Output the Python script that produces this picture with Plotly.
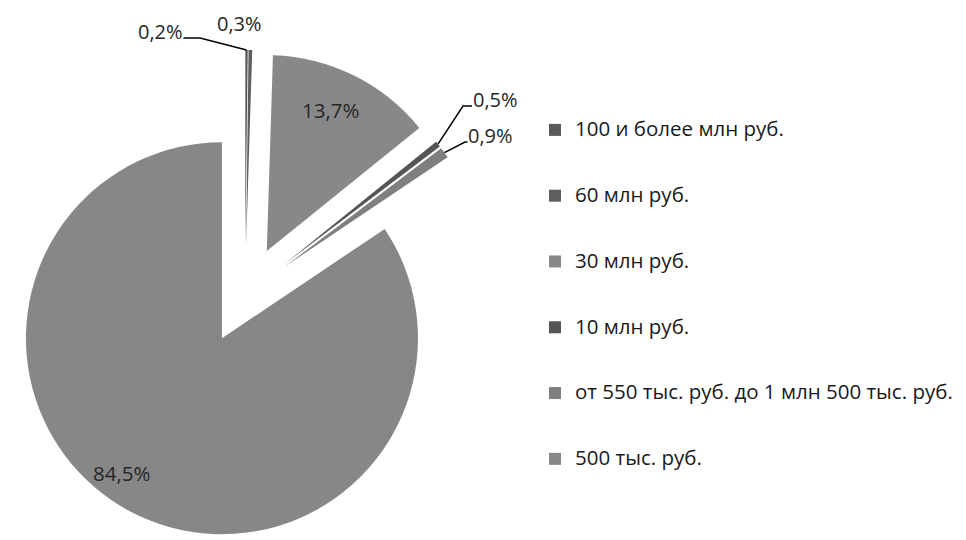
import math
import plotly.graph_objects as go

# ---- data ----
categories = [
    "100 и более млн руб.",
    "60 млн руб.",
    "30 млн руб.",
    "10 млн руб.",
    "от 550 тыс. руб. до 1 млн 500 тыс. руб.",
    "500 тыс. руб.",
]
shares = [0.2, 0.3, 13.7, 0.5, 0.9, 84.5]
colors = ["#5a5a5a", "#5e5e5e", "#888888", "#555555", "#7f7f7f", "#878787"]

W, H = 966, 540
FONT = "Open Sans"
PULL = 0.25
BOX = 490  # pie box size in px (left/bottom aligned)

# legend entries padded with blank lines to reproduce the wide spacing
legend_labels = [
    ' <br><span style="font-size:20.5px">' + c + "</span><br> " for c in categories
]

fig = go.Figure(
    go.Pie(
        labels=legend_labels,
        values=shares,
        sort=False,
        direction="clockwise",
        rotation=0,
        pull=[PULL] * len(shares),
        marker=dict(colors=colors, line=dict(width=0)),
        textinfo="none",
        hoverinfo="skip",
        domain=dict(x=[0, BOX / W], y=[0, BOX / H]),
    )
)

# pie geometry (same rule plotly uses) to anchor the label leader lines
r = BOX / (2 + 2 * PULL)
cx, cy = BOX / 2, H - BOX / 2
total = sum(shares)
cum = 0
tips = []
for v in shares:
    a0 = cum / total * 2 * math.pi
    cum += v
    a1 = cum / total * 2 * math.pi
    am = (a0 + a1) / 2
    ux, uy = math.sin(am), -math.cos(am)
    pcx, pcy = cx + PULL * r * ux, cy + PULL * r * uy
    tips.append((pcx + r * ux, pcy + r * uy))


def fmt(v):
    return f"{v:.1f}".replace(".", ",") + "%"


def paper(x, y):
    return x / W, 1 - y / H


# (slice index, text centre px, elbow point px or None, font size)
label_spec = [
    (0, (160.5, 32), (200, 38), 20),
    (1, (239.5, 24), None, 20),
    (2, (330, 110), None, 20.5),
    (3, (495, 100), (463, 106), 20),
    (4, (490.5, 135), (465, 142), 20),
    (5, (121, 473), None, 20.5),
]
annotations = []
shapes = []
for i, ctr, elbow, fs in label_spec:
    x, y = paper(*ctr)
    annotations.append(
        dict(
            text=fmt(shares[i]),
            x=x, y=y, xref="paper", yref="paper",
            xanchor="center", yanchor="middle",
            showarrow=False,
            font=dict(family=FONT, size=fs, color="#262626"),
        )
    )
    if elbow is not None:
        ex, ey = elbow
        tx, ty = tips[i]
        # horizontal stub from the text edge to the elbow, then to the slice
        half_w = 23
        sx = ctr[0] + half_w if ex > ctr[0] else ctr[0] - half_w
        pts = [paper(sx, ey), paper(ex, ey), paper(tx, ty)]
        path = "M {:.5f},{:.5f} L {:.5f},{:.5f} L {:.5f},{:.5f}".format(
            *pts[0], *pts[1], *pts[2]
        )
        shapes.append(
            dict(type="path", xref="paper", yref="paper", path=path,
                 line=dict(color="#000000", width=1.5))
        )

fig.update_layout(
    width=W,
    height=H,
    margin=dict(l=0, r=0, t=0, b=0),
    paper_bgcolor="white",
    plot_bgcolor="white",
    font=dict(family=FONT, size=17, color="#222222"),
    legend=dict(
        x=535 / W, xanchor="left",
        y=1 - 294.5 / H, yanchor="middle",
        font=dict(family=FONT, size=16.1, color="#1a1a1a"),
        bgcolor="rgba(0,0,0,0)",
    ),
    annotations=annotations,
    shapes=shapes,
    showlegend=True,
)

fig.write_html(
    "out.html",
    config={"displayModeBar": False},
    post_script="document.body.style.margin='0px';",
)
